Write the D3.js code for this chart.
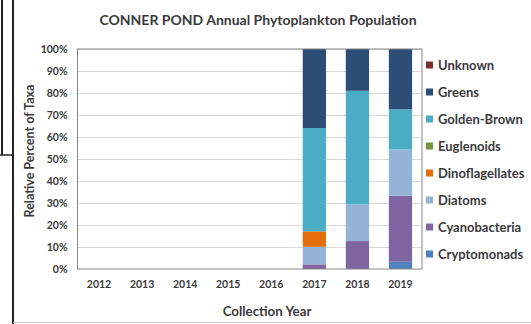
<!DOCTYPE html>
<html><head><meta charset="utf-8">
<script src="https://cdn.jsdelivr.net/npm/d3@7"></script>
<style>
body{margin:0;background:#fff;}
text{font-family:Lato, "Open Sans", sans-serif;font-weight:bold;fill:#3a3a3a;}
</style></head>
<body><svg id="c" width="531" height="324"></svg>
<script>
const years = ["2012","2013","2014","2015","2016","2017","2018","2019"];
const seriesNames = ["Cryptomonads","Cyanobacteria","Diatoms","Dinoflagellates","Euglenoids","Golden-Brown","Greens","Unknown"];
const seriesColors = ["#4f81bd","#8064a2","#95b3d7","#e46c0a","#77933c","#4bacc6","#2c4d75","#7b2c2c"];
const cryptomonads   = [0,0,0,0,0,0,0,3.3];
const cyanobacteria  = [0,0,0,0,0,2.1,12.7,30.0];
const diatoms        = [0,0,0,0,0,8.0,16.7,21.1];
const dinoflagellates= [0,0,0,0,0,7.0,0,0];
const euglenoids     = [0,0,0,0,0,0,0,0];
const goldenBrown    = [0,0,0,0,0,47.0,51.6,18.2];
const greens         = [0,0,0,0,0,35.9,19.0,27.4];
const unknown        = [0,0,0,0,0,0,0,0];
const yTicks = [0,10,20,30,40,50,60,70,80,90,100];

const seriesVals = [cryptomonads,cyanobacteria,diatoms,dinoflagellates,euglenoids,goldenBrown,greens,unknown];
const rows = years.map((y,i)=>{const r={year:y};seriesNames.forEach((s,j)=>r[s]=seriesVals[j][i]);return r;});
const stacked = d3.stack().keys(seriesNames).offset(d3.stackOffsetExpand)(rows);

const svg = d3.select("#c");
const L=77.5,R=422,T=49,B=269;
const x = d3.scaleBand().domain(years).range([L,R]).paddingInner(0.46).paddingOuter(0.23);
const y = d3.scaleLinear().domain([0,100]).range([B,T]);

// frame lines
svg.append("line").attr("x1",13).attr("x2",13).attr("y1",0).attr("y2",324).attr("stroke","#222").attr("stroke-width",2);
svg.append("line").attr("x1",2).attr("x2",2).attr("y1",0).attr("y2",155).attr("stroke","#222").attr("stroke-width",2);
svg.append("line").attr("x1",0).attr("x2",13).attr("y1",155).attr("y2",155).attr("stroke","#222").attr("stroke-width",1.5);
svg.append("line").attr("x1",13).attr("x2",531).attr("y1",322.5).attr("y2",322.5).attr("stroke","#c8c8c8").attr("stroke-width",1);

// gridlines
svg.append("g").selectAll("line").data(yTicks.slice(1)).join("line")
  .attr("x1",L).attr("x2",R).attr("y1",d=>Math.round(y(d))+0.5).attr("y2",d=>Math.round(y(d))+0.5)
  .attr("stroke","#d9d9d9");

// bars
const g = svg.append("g");
stacked.forEach((layer,j)=>{
  g.append("g").attr("fill",seriesColors[j]).selectAll("rect").data(layer).join("rect")
    .attr("x",d=>x(d.data.year)).attr("width",x.bandwidth())
    .attr("y",d=>isNaN(d[1])?0:y(d[1]*100)).attr("height",d=>isNaN(d[1])?0:y(d[0]*100)-y(d[1]*100));
});

// plot border
svg.append("rect").attr("x",L).attr("y",T).attr("width",R-L).attr("height",B-T)
  .attr("fill","none").attr("stroke","#868686").attr("stroke-width",1);

// y axis
const ya = svg.append("g").attr("transform",`translate(${L},0)`)
  .call(d3.axisLeft(y).tickValues(yTicks).tickFormat(d=>d+"%").tickSize(0).tickPadding(10));
ya.select(".domain").remove();
ya.selectAll("text").attr("font-size",10.5).attr("font-family","Lato").attr("font-weight","bold").attr("fill","#3a3a3a").attr("dy","0.35em");

// x axis
const xa = svg.append("g").attr("transform",`translate(0,${B})`)
  .call(d3.axisBottom(x).tickSize(0).tickPadding(12));
xa.select(".domain").remove();
xa.selectAll("text").attr("font-size",10.5).attr("font-family","Lato").attr("font-weight","bold").attr("fill","#3a3a3a");

// titles
svg.append("text").attr("x",258).attr("y",25).attr("text-anchor","middle").attr("font-size",14).text("CONNER POND Annual Phytoplankton Population");
svg.append("text").attr("x",267).attr("y",316).attr("text-anchor","middle").attr("font-size",13.3).text("Collection Year");
svg.append("text").attr("transform","translate(34,151) rotate(-90)").attr("text-anchor","middle").attr("font-size",12.5).text("Relative Percent of Taxa");

// legend
const legOrder = seriesNames.map((s,i)=>i).reverse();
const lg = svg.append("g");
legOrder.forEach((j,k)=>{
  const yy = 65 + k*27;
  lg.append("rect").attr("x",426).attr("y",yy-3.5).attr("width",7).attr("height",7).attr("fill",seriesColors[j]);
  lg.append("text").attr("x",438).attr("y",yy).attr("dy","0.35em").attr("font-size",13).text(seriesNames[j]);
});
</script></body></html>
